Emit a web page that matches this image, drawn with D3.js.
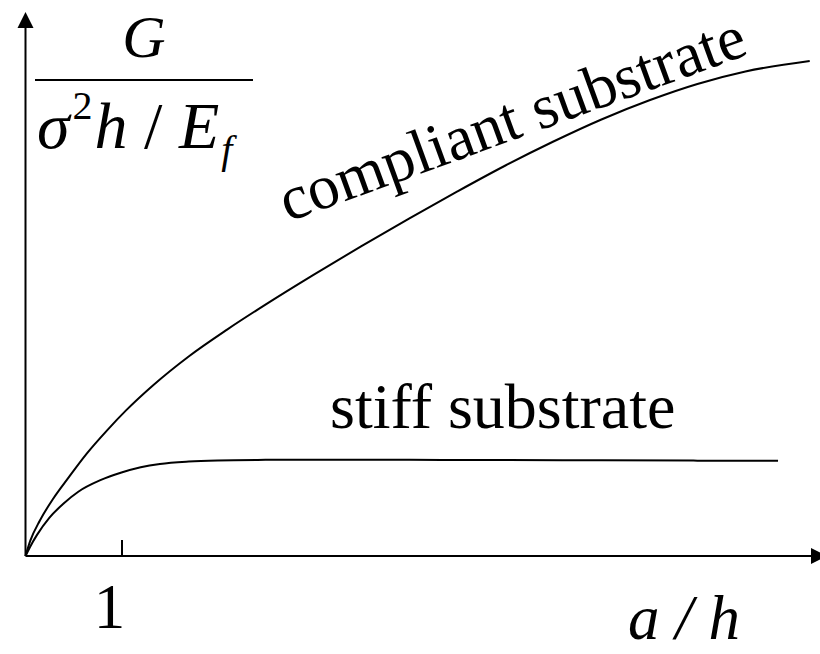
<!DOCTYPE html>
<html>
<head>
<meta charset="utf-8">
<script src="https://cdn.jsdelivr.net/npm/d3@7"></script>
</head>
<body style="margin:0">
<script>
// Energy release rate vs. crack length, for a film on two kinds of substrate
const compliantX = [0, 0.05, 0.15, 0.29, 0.45, 0.64, 0.85, 1.05, 1.33, 1.7, 2.1, 2.5, 3.0, 3.5, 4.0, 4.5, 5.0, 5.5, 6.0, 6.5, 7.0, 7.5, 8.17];
const compliantY = [0, 0.16, 0.37, 0.60, 0.82, 1.07, 1.31, 1.52, 1.78, 2.08, 2.36, 2.62, 2.93, 3.23, 3.52, 3.80, 4.07, 4.32, 4.55, 4.75, 4.92, 5.05, 5.16];

const stiffX = [0, 0.05, 0.12, 0.25, 0.4, 0.55, 0.78, 1.0, 1.2, 1.4, 1.7, 2.0, 2.5, 3.0, 4.0, 5.0, 6.0, 7.0, 7.84];
const stiffY = [0, 0.10, 0.22, 0.40, 0.55, 0.67, 0.79, 0.87, 0.925, 0.96, 0.985, 0.996, 1.002, 1.004, 1.002, 1.0, 0.997, 0.994, 0.992];

const xTicks = [1];
const xTickLabels = ["1"];
const curveLabels = ["compliant substrate", "stiff substrate"];

const W = 820, H = 654;
const svg = d3.select("body").append("svg")
  .attr("width", W).attr("height", H)
  .style("display", "block");

// one unit along either axis spans the same number of pixels
const x = d3.scaleLinear().domain([0, 8.35]).range([25.5, 827]);
const y = d3.scaleLinear().domain([0, 5.67]).range([556, 12]);

const line = d3.line().x(d => x(d[0])).y(d => y(d[1])).curve(d3.curveMonotoneX);

// serif text helper
function label(sel, size, italic) {
  sel.style("font-family", '"Liberation Serif"').attr("font-size", size);
  if (italic) sel.style("font-style", "italic");
  return sel;
}

// axes
const axisG = svg.append("g").attr("stroke", "#000").attr("stroke-width", 2);
axisG.append("line")
  .attr("x1", x(0)).attr("y1", y(0))
  .attr("x2", x(0)).attr("y2", y(5.67) + 14);
axisG.append("line")
  .attr("x1", x(0)).attr("y1", y(0))
  .attr("x2", x(8.35) - 14).attr("y2", y(0));

// arrow heads
svg.append("path")
  .attr("d", `M${x(0)},${y(5.67)} L${x(0) - 8},${y(5.67) + 16} L${x(0) + 8},${y(5.67) + 16} Z`)
  .attr("fill", "#000");
svg.append("path")
  .attr("d", `M${x(8.35)},${y(0)} L${x(8.35) - 16},${y(0) - 8} L${x(8.35) - 16},${y(0) + 8} Z`)
  .attr("fill", "#000");

// tick at a/h = 1 (line from the axis generator, label placed under it)
const xAxis = d3.axisBottom(x).tickValues(xTicks).tickSize(-16).tickFormat("");
const gx = svg.append("g").attr("transform", `translate(0,${y(0)})`).call(xAxis);
gx.select(".domain").remove();
gx.selectAll(".tick line").attr("stroke", "#000").attr("stroke-width", 2);
gx.selectAll(".tick text").remove();
xTicks.forEach((t, i) => {
  label(svg.append("text"), 63, false)
    .attr("x", x(t) - 12).attr("y", y(0) + 72)
    .attr("text-anchor", "middle")
    .text(xTickLabels[i]);
});

// curves
svg.append("path")
  .datum(compliantX.map((v, i) => [v, compliantY[i]]))
  .attr("d", line).attr("fill", "none").attr("stroke", "#000").attr("stroke-width", 2);
svg.append("path")
  .datum(stiffX.map((v, i) => [v, stiffY[i]]))
  .attr("d", line).attr("fill", "none").attr("stroke", "#000").attr("stroke-width", 2);

// curve labels
label(svg.append("text"), 63, false)
  .attr("transform", "translate(288,222) rotate(-20)")
  .text(curveLabels[0]);
label(svg.append("text"), 64, false)
  .attr("x", 330).attr("y", 428)
  .text(curveLabels[1]);

// y-axis quantity: G / (sigma^2 h / E_f)
label(svg.append("text"), 60, true)
  .attr("x", 144).attr("y", 57).attr("text-anchor", "middle")
  .text("G");
svg.append("line")
  .attr("x1", 35).attr("x2", 253).attr("y1", 80).attr("y2", 80)
  .attr("stroke", "#000").attr("stroke-width", 2);
const den = label(svg.append("text"), 66, false).attr("x", 37).attr("y", 148);
den.append("tspan").style("font-style", "italic").text("σ");
den.append("tspan").attr("font-size", 40).attr("dy", -29).attr("dx", 3).text("2");
den.append("tspan").style("font-style", "italic").attr("dy", 29).attr("dx", 2).text("h");
den.append("tspan").text(" / ");
den.append("tspan").style("font-style", "italic").text("E");
den.append("tspan").style("font-style", "italic").attr("font-size", 40).attr("dy", 15).attr("dx", 2).text("f");

// x-axis quantity: a / h
label(svg.append("text"), 63, true)
  .attr("x", 628).attr("y", 639)
  .text("a / h");
</script>
</body>
</html>
